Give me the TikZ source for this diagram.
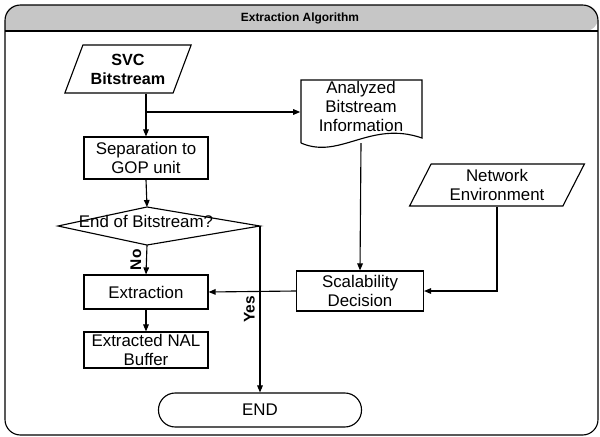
\documentclass[tikz,border=0pt]{standalone}
\usepackage{fontspec}
\setmainfont{Liberation Sans}
\usetikzlibrary{shapes.geometric, arrows.meta, positioning, calc}

\tikzset{
  box/.style={draw, thick, minimum width=3.1cm, align=center, inner sep=1pt},
  iobox/.style={draw, thick, trapezium, trapezium left angle=65, trapezium right angle=115,
    trapezium stretches=true, align=center, inner sep=1pt},
  arr/.style={thick, -{Triangle[length=5pt,width=4pt]}},
  lbl/.style={font=\bfseries\fontsize{11}{12}\selectfont, rotate=90}
}

\begin{document}
\begin{tikzpicture}[x=0.025cm, y=-0.025cm, font=\fontsize{12}{13.5}\selectfont]
\useasboundingbox (0,0) rectangle (600,436);

% frame with title bar
\fill[gray!45, rounded corners=9pt] (5,31) -- (5,5) -- (598,5) -- (598,31) [sharp corners] -- cycle;
\draw[thick, rounded corners=11pt] (5,5) -- (598,5) -- (598,435) -- (5,435) -- cycle;
\draw[thick] (5,31) -- (598,31);
\node[font=\bfseries\fontsize{8.5}{10}\selectfont] (title) at (300,18) {Extraction Algorithm};

% left column
\node[iobox, font=\bfseries\fontsize{11.5}{13.5}\selectfont, minimum width=3.175cm, minimum height=1.2cm]
  (svc) at (128,69) {SVC\\Bitstream};
\node[box, minimum height=1.05cm] (sep) at (146,158) {Separation to\\GOP unit};

% decision
\coordinate (eobw) at (58,226);
\coordinate (eobn) at (147,207);
\coordinate (eobe) at (260,226);
\coordinate (eobs) at (147,245);
\draw[thick] (eobw) -- (eobn) -- (eobe) -- (eobs) -- cycle;
\node (eob) at (146,221) {End of Bitstream?};

\node[box, minimum height=0.85cm] (ext) at (146,292) {Extraction};
\node[box, minimum height=0.9cm] (nal) at (146,350) {Extracted NAL\\Buffer};
\node[draw, thick, rounded corners=0.42cm, minimum width=5.075cm, minimum height=0.85cm]
  (end) at (260,410) {END};

% right column
\node[minimum width=3.025cm, minimum height=1.6cm, align=center, inner sep=1pt]
  (doc) at (361,106) {Analyzed\\Bitstream\\Information};
\draw[thick] (301,143) -- (301,80) -- (422,80) -- (422,138)
  .. controls (370,120) and (340,160) .. (301,143);
\coordinate (docb) at (361,143);

\node[iobox, minimum width=4.4cm, minimum height=1.05cm] (net) at (497,185) {Network\\Environment};
\node[box, minimum width=3.175cm, minimum height=1.0cm] (scal) at (360,291) {Scalability\\Decision};

% connectors
\coordinate (br) at (146,112);
\draw[arr] (sep.north |- svc.south) -- (sep.north);
\draw[arr] (br) -- (br -| doc.west);
\draw[arr] (sep.south) -- (eobn);
\draw[arr] (eobs) -- node[lbl, above] {No} (ext.north);
\draw[arr] (eobe) -- node[lbl, above, pos=0.5] {Yes} (end.north);
\draw[arr] (ext.south) -- (nal.north);
\draw[arr] (docb) -- (scal.north);
\draw[arr] (scal.west) -- (ext.east);
\draw[arr] (net.south) |- (scal.east);
\end{tikzpicture}
\end{document}
